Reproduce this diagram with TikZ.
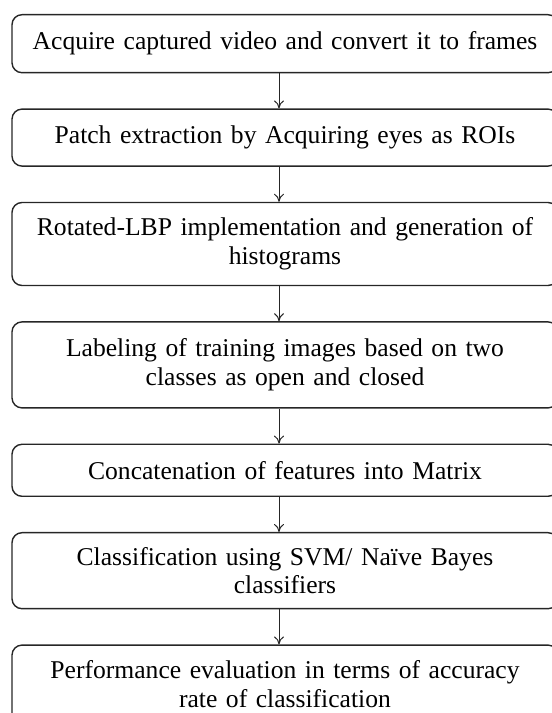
\documentclass[tikz,border=0pt]{standalone}
\usepackage{fontspec}
\setmainfont{Liberation Serif}
\usetikzlibrary{arrows.meta,positioning}

\begin{document}
\begin{tikzpicture}[x=1pt,y=1pt,
  node distance=35pt,
  >={To[length=8pt,width=10pt]},
  stage/.style={rectangle, rounded corners=10pt, draw=black!85, line width=1.4pt,
    text width=520pt, minimum width=546pt, inner xsep=13pt, inner ysep=0pt,
    align=center, font=\fontsize{25.6}{28.5}\selectfont}]
    \tikzstyle{flow}=[->, draw=black!85, line width=1pt]
    \useasboundingbox (0,0) rectangle (552,713);

    \node[stage, minimum height=58pt, anchor=north] (acquire) at (285,699)
      {Acquire captured video and convert it to frames};
    \node[stage, minimum height=57pt, below=of acquire] (patch)
      {Patch extraction by Acquiring eyes as ROIs};
    \node[stage, minimum height=83pt, below=of patch] (lbp)
      {Rotated-LBP implementation and generation of\\ histograms};
    \node[stage, minimum height=86pt, below=of lbp] (label)
      {Labeling of training images based on two\\ classes as open and closed};
    \node[stage, minimum height=52pt, below=of label] (concat)
      {Concatenation of features into Matrix};
    \node[stage, minimum height=76pt, below=of concat] (classify)
      {Classification using SVM/ Naïve Bayes\\ classifiers};
    \node[stage, minimum height=78pt, below=of classify] (perf)
      {Performance evaluation in terms of accuracy\\ rate of classification};

  \foreach \a/\b in {acquire/patch, patch/lbp, lbp/label, label/concat,
                     concat/classify, classify/perf}
    \draw[flow] ([xshift=-6pt]\a.south) -- ([xshift=-6pt]\b.north);

\end{tikzpicture}
\end{document}
